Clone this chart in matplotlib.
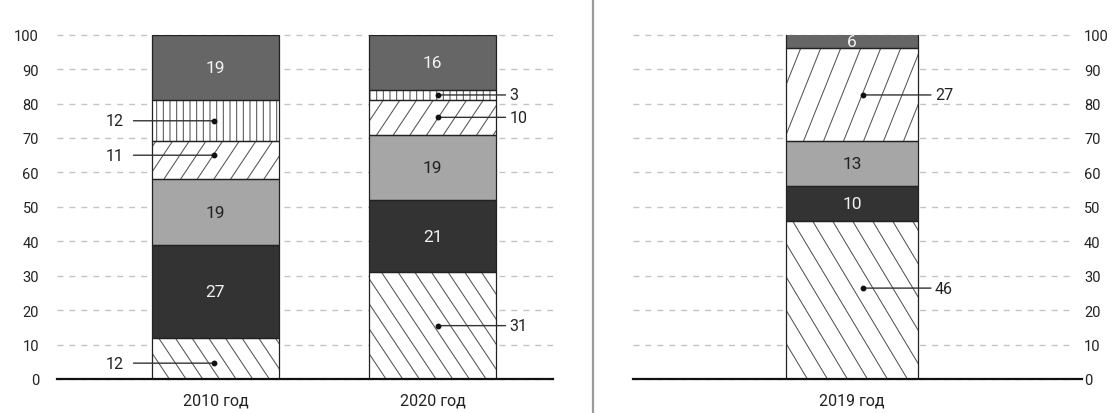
import numpy as np
import matplotlib
matplotlib.use("Agg")
import matplotlib.pyplot as plt
import matplotlib.hatch as mhatch
from matplotlib.path import Path
from matplotlib.lines import Line2D
from matplotlib.transforms import ScaledTranslation

# ---------------------------------------------------------------- data
left_categories = ["2010 год", "2020 год"]
left_s1 = [12, 31]   # hatched "\"
left_s2 = [27, 21]   # dark
left_s3 = [19, 19]   # light grey
left_s4 = [11, 10]   # hatched "/"
left_s5 = [12, 3]    # vertical lines
left_s6 = [19, 16]   # mid grey

right_categories = ["2019 год"]
right_s1 = [46]
right_s2 = [10]
right_s3 = [13]
right_s4 = [27]
right_s5 = [0]
right_s6 = [6]

yticks = list(range(0, 101, 10))


# ---------------------------------------------------------------- hatches
class SlantHatch(mhatch.HatchPatternBase):
    """Steep diagonal hatch; variants keyed by the number of hatch chars."""
    char = "/"
    rising = True
    variants = {}

    def __init__(self, hatch, density):
        cnt = hatch.count(self.char)
        self.params = self.variants.get(cnt) if cnt else None
        if self.params:
            n, k = self.params
            self.num_vertices = (n + k + 1) * 2
        else:
            self.num_vertices = 0

    def set_vertices_and_codes(self, vertices, codes):
        n, k = self.params
        run = k / n
        starts = np.arange(-k, n + 1) / n
        y0, y1 = (0.0, 1.0) if self.rising else (1.0, 0.0)
        vertices[0::2, 0] = starts
        vertices[0::2, 1] = y0
        vertices[1::2, 0] = starts + run
        vertices[1::2, 1] = y1
        codes[0::2] = Path.MOVETO
        codes[1::2] = Path.LINETO


class RiseHatch(SlantHatch):
    char = "/"
    rising = True
    variants = {1: (6, 4), 2: (5, 2)}   # (lines per tile, run in 1/n units)


class FallHatch(SlantHatch):
    char = "\\"
    rising = False
    variants = {1: (6, 4), 2: (5, 3)}


class FineVerticalHatch(mhatch.HatchPatternBase):
    def __init__(self, hatch, density):
        self.num_lines = 15 if hatch.count("|") else 0
        self.num_vertices = self.num_lines * 2

    def set_vertices_and_codes(self, vertices, codes):
        xs = (np.arange(self.num_lines) + 0.5) / self.num_lines
        vertices[0::2, 0] = xs
        vertices[0::2, 1] = 0.0
        vertices[1::2, 0] = xs
        vertices[1::2, 1] = 1.0
        codes[0::2] = Path.MOVETO
        codes[1::2] = Path.LINETO


mhatch._hatch_types = [mhatch.HorizontalHatch, FineVerticalHatch,
                       RiseHatch, FallHatch]

# ---------------------------------------------------------------- style
plt.rcParams["font.family"] = ["Roboto", "DejaVu Sans"]
plt.rcParams["hatch.linewidth"] = 0.75

TEXT = "#222222"
EDGE = "#222222"
HATCH_C = "#555555"

# (facecolor, hatch, label kind, label colour)
series_style = [
    ("white", "\\", "callout", TEXT),
    ("#333333", None, "inside", "#f2f2f2"),
    ("#a6a6a6", None, "inside", TEXT),
    ("white", "/", "callout", TEXT),
    ("white", "|", "callout", TEXT),
    ("#666666", None, "inside", "#f2f2f2"),
]

# callout geometry per bar: dot shift from centre, line length (pixels)
callout_geom = {"2010 год": (-1, -81), "2020 год": (5, 68), "2019 год": (11, 68)}
# vertical nudges of callouts (data units)
callout_nudge = {("2010 год", 0): -1.4, ("2010 год", 3): 1.5,
                 ("2019 год", 0): 3.4}
# wider/steeper hatching variant for the single right-hand bar
hatch_variant = {"2019 год": 2}

W, H = 1112, 414
fig = plt.figure(figsize=(W / 100, H / 100), dpi=100)

ax_bottom = (H - 380) / H
ax_height = (380 - 35.7) / H
axL = fig.add_axes([57 / W, ax_bottom, (553 - 57) / W, ax_height])
axR = fig.add_axes([633 / W, ax_bottom, (1075 - 633) / W, ax_height])

px = 1.0 / fig.dpi


def draw_panel(ax, cats, series, width, xlim, side, base_extra=0.0):
    x = np.arange(len(cats))
    bottoms = np.zeros(len(cats))
    for si, (vals, (fc, hatch, kind, tc)) in enumerate(zip(series, series_style)):
        vals = np.asarray(vals, dtype=float)
        for i, cat in enumerate(cats):
            v = vals[i]
            if v <= 0:
                continue
            b = bottoms[i]
            h = hatch * hatch_variant.get(cat, 1) if hatch else None
            ax.bar(x[i], v, width, bottom=b, color=fc, edgecolor=HATCH_C,
                   linewidth=0, hatch=h, zorder=2)
            ax.bar(x[i], v, width, bottom=b, fill=False, edgecolor=EDGE,
                   linewidth=0.9, zorder=3)
            top_vis = min(b + v, 100)
            yc = (b + top_vis) / 2
            if kind == "inside":
                ax.text(x[i], yc, f"{v:g}", ha="center", va="center",
                        color=tc, fontsize=12.5, zorder=4)
            else:
                yc += callout_nudge.get((cat, si), 0)
                dot_dx, length = callout_geom[cat]
                tr_dot = ax.transData + ScaledTranslation(dot_dx * px, 0, fig.dpi_scale_trans)
                tr_end = ax.transData + ScaledTranslation((dot_dx + length) * px, 0,
                                                          fig.dpi_scale_trans)
                gap = -10 if length < 0 else 4
                tr_lab = ax.transData + ScaledTranslation((dot_dx + length + gap) * px, 0,
                                                          fig.dpi_scale_trans)
                ax.annotate("", xy=(x[i], yc), xycoords=tr_dot,
                            xytext=(x[i], yc), textcoords=tr_end,
                            arrowprops=dict(arrowstyle="-", color="#333333", lw=1.0,
                                            shrinkA=0, shrinkB=0),
                            annotation_clip=False, zorder=5)
                ax.plot([x[i]], [yc], "o", ms=3.2, color="#111111",
                        transform=tr_dot, zorder=6, clip_on=False)
                ax.text(x[i], yc, f"{v:g}", transform=tr_lab,
                        ha="right" if length < 0 else "left", va="center",
                        color=TEXT, fontsize=11.5, zorder=6)
        bottoms += vals

    ax.set_xlim(*xlim)
    ax.set_ylim(0, 100)
    ax.set_xticks(x)
    ax.set_xticklabels(cats, fontsize=11.5, color=TEXT)
    ax.set_yticks(yticks)
    ax.tick_params(axis="x", length=0, pad=10)
    if side == "left":
        ax.tick_params(axis="y", length=0, pad=13, labelsize=10.5, labelcolor=TEXT)
    else:
        ax.yaxis.tick_right()
        ax.tick_params(axis="y", length=0, pad=6.5, labelsize=10.5, labelcolor=TEXT)
    for s in ax.spines.values():
        s.set_visible(False)
    ax.set_axisbelow(True)
    ax.yaxis.grid(True, color="#c4c4c4", linewidth=1.0, linestyle=(0, (4.3, 4.3)))
    for t in ax.yaxis.get_major_ticks():
        t.gridline.set_clip_on(False)
    ax.axhline(0, xmin=0, xmax=1 + base_extra, color="#111111", linewidth=1.6,
               zorder=7, clip_on=False)


draw_panel(axL, left_categories,
           [left_s1, left_s2, left_s3, left_s4, left_s5, left_s6],
           0.585, (-0.730, 1.555), "left")
draw_panel(axR, right_categories,
           [right_s1, right_s2, right_s3, right_s4, right_s5, right_s6],
           0.608, (-1.009, 1.028), "right", base_extra=7 / 442)

# panel divider
fig.add_artist(Line2D([593 / W, 593 / W], [0, 1], transform=fig.transFigure,
                      color="#9a9a9a", linewidth=1.6))

fig.savefig("out.png", dpi=100)
